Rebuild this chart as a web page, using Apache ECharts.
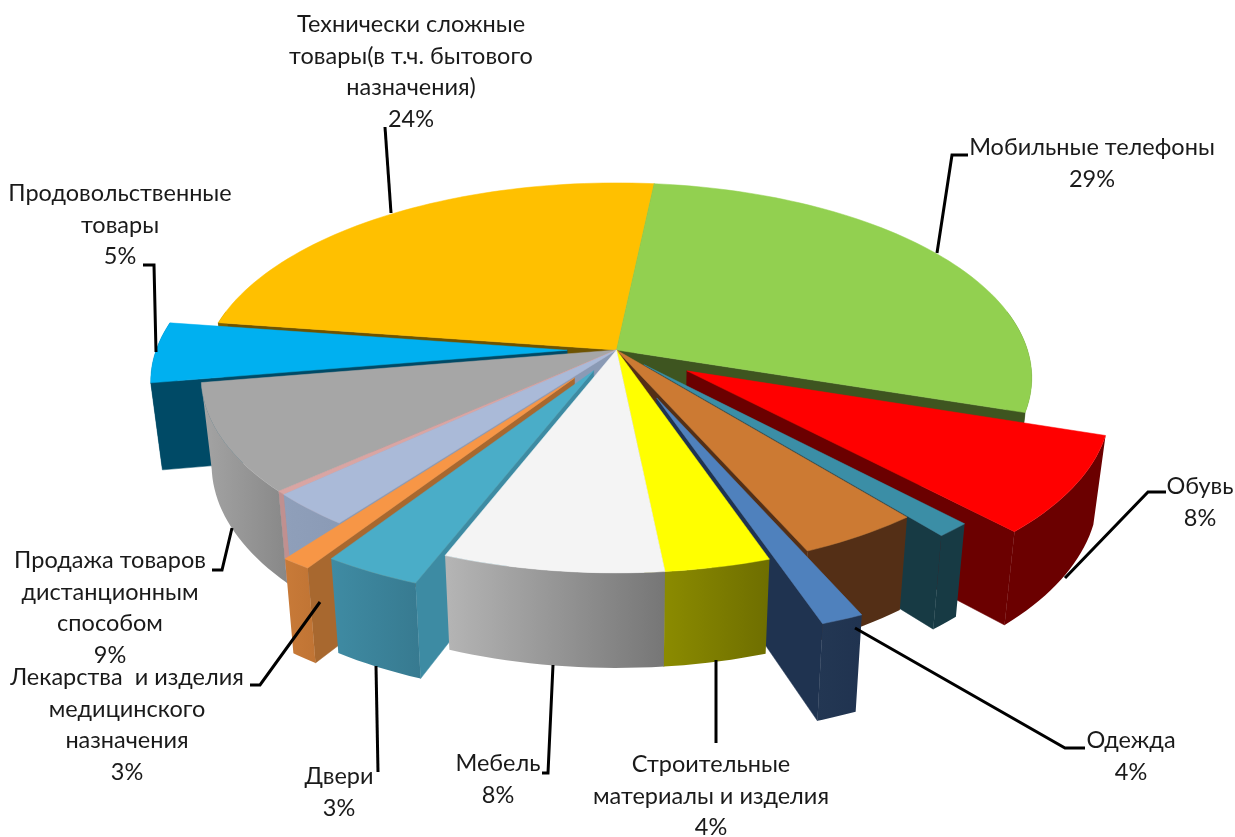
<!DOCTYPE html>
<html>
<head>
<meta charset="utf-8">
<style>
  html, body { margin: 0; padding: 0; background: #fff; }
  #chart { width: 1235px; height: 837px; }
</style>
<script src="https://cdn.jsdelivr.net/npm/echarts@6/dist/echarts.min.js"></script>
</head>
<body>
<div id="chart"></div>
<script>
// доли секторов, по часовой стрелке (оценка по картинке)
var sliceNames = ["Мобильные телефоны", "Обувь", "", "", "Одежда", "Строительные материалы и изделия", "Мебель",
  "Двери", "Лекарства и изделия медицинского назначения", "", "", "Продажа товаров дистанционным способом",
  "Продовольственные товары", "Технически сложные товары(в т.ч. бытового назначения)"];
var sliceValues = [28.4, 7.95, 1.17, 4.2, 1.4, 3.6, 7.5, 3.3, 1.0, 2.85, 0.3, 9.0, 5.0, 24.33];
var sliceExplode = [0, 0.2, 0.1, 0, 0.26, 0, 0, 0.12, 0.175, 0, 0, 0, 0.12, 0];
var startAngle = 6;

var topColors = ["#92d050", "#ff0000", "#3b8ea6", "#cc7a33", "#4f81bd", "#ffff00", "#f4f4f4",
  "#4aadc8", "#f79646", "#aabad8", "#d9a5a3", "#a6a6a6", "#00b0f0", "#ffc000"];
var wallColors = [["#3e5520", "#3e5520"], ["#6b0000", "#6b0000"], ["#173a44", "#173a44"], ["#542f16", "#542f16"],
  ["#233753", "#203350"], ["#8b8b00", "#6e6e00"], ["#b5b5b5", "#767676"], ["#3f8ba3", "#377a90"],
  ["#c87a38", "#c07434"], ["#8f9fba", "#8a9ab5"], ["#c09090", "#c09090"], ["#a4a4a4", "#888888"],
  ["#004a66", "#004a66"], ["#806000", "#806000"]];
var faceColors = ["#3e5520", "#6b0000", "#173a44", "#542f16", "#1f3350", "#6e6e00", "#767676",
  "#3d8ba3", "#a8682f", "#8a9ab5", "#c09090", "#848484", "#004a66", "#6e5300"];

// подписи: текст и положение отдельно от данных
var labelTexts = ["Технически сложные\nтовары(в т.ч. бытового\nназначения)\n24%", "Мобильные телефоны\n29%",
  "Продовольственные\nтовары\n5%", "Обувь\n8%", "Одежда\n4%", "Строительные\nматериалы и изделия\n4%",
  "Мебель\n8%", "Двери\n3%", "Лекарства  и изделия\nмедицинского\nназначения\n3%",
  "Продажа товаров\nдистанционным\nспособом\n9%"];
var labelPos = [[411, 9], [1092, 132], [120, 178], [1200, 471], [1131, 725], [711, 749], [498, 748], [339, 761], [127, 662], [110, 545]];
var leaders = [
  [[385, 127], [391, 213]],
  [[968, 155], [952, 155], [937, 253]],
  [[143, 265], [154, 265], [156, 352]],
  [[1166, 492], [1148, 492], [1065, 578]],
  [[1085, 748], [1065, 748], [855, 628]],
  [[716, 660], [716, 743]],
  [[553, 665], [548, 773], [542, 773]],
  [[376, 666], [378, 772]],
  [[320, 602], [260, 685], [250, 685]],
  [[232, 528], [222, 570], [212, 570]]
];

// проекция диска
var cx = 616.5, cy = 350, radX = 411, radY = 191, persp = 0.143, depth = 85.6, shrink = 0.975;

function project(x, y, bottom) {
  var s = 1 / (1 - persp * y);
  var px = cx + radX * x * s;
  var py = cy + radY * y * s;
  if (bottom) {
    px = cx + (px - cx) * shrink;
    py += depth * Math.pow(s, 0.68);
  }
  return [px, py];
}
function rad(d) { return d * Math.PI / 180; }

var total = sliceValues.reduce(function (a, b) { return a + b; }, 0);
var sliceData = [];
var acc = startAngle;
sliceValues.forEach(function (v, i) {
  var sweep = v / total * 360;
  sliceData.push([i, acc, acc + sweep, sliceExplode[i]]);
  acc += sweep;
});
// дальние сектора рисуем первыми
sliceData.sort(function (a, b) {
  var ma = Math.abs((a[1] + a[2]) / 2 - 180);
  var mb = Math.abs((b[1] + b[2]) / 2 - 180);
  return mb - ma;
});

function poly(points, fill) {
  return {
    type: "polygon",
    shape: { points: points },
    style: { fill: fill, stroke: typeof fill === "string" ? fill : null, lineWidth: 0.5 },
    silent: true
  };
}

function renderItem(params, api) {
  var i = api.value(0), a = api.value(1), b = api.value(2), e = api.value(3);
  var mid = rad((a + b) / 2);
  var ox = e * Math.sin(mid), oy = -e * Math.cos(mid);
  var apexTop = project(ox, oy, false), apexBot = project(ox, oy, true);

  function arc(from, to, bottom) {
    var pts = [];
    for (var t = from; ; t += 1.5) {
      var th = rad(Math.min(t, to));
      pts.push(project(ox + Math.sin(th), oy - Math.cos(th), bottom));
      if (t >= to) break;
    }
    return pts;
  }
  var topArc = arc(a, b, false);
  var last = topArc.length - 1;
  var children = [];

  // боковые срезы, только те, что смотрят на зрителя
  if (b % 360 < 180) {
    children.push(poly([apexTop, topArc[last], project(ox + Math.sin(rad(b)), oy - Math.cos(rad(b)), true), apexBot], faceColors[i]));
  }
  if (a % 360 > 180) {
    children.push(poly([apexTop, topArc[0], project(ox + Math.sin(rad(a)), oy - Math.cos(rad(a)), true), apexBot], faceColors[i]));
  }
  // внешняя стенка, задняя часть не видна
  var wa = Math.max(a, 78), wb = Math.min(b, 282);
  if (wa < wb) {
    var wt = arc(wa, wb, false), wd = arc(wa, wb, true);
    var xs = wt.concat(wd).map(function (p) { return p[0]; });
    var minX = Math.min.apply(null, xs), maxX = Math.max.apply(null, xs);
    var wall = new echarts.graphic.LinearGradient(minX, 0, maxX, 0, [
      { offset: 0, color: wallColors[i][0] },
      { offset: 1, color: wallColors[i][1] }
    ], true);
    children.push(poly(wt.concat(wd.slice().reverse()), wall));
  }
  // верхняя грань
  children.push(poly([apexTop].concat(topArc), topColors[i]));

  return { type: "group", children: children };
}

var graphics = [];
leaders.forEach(function (pts) {
  graphics.push({
    type: "polyline",
    shape: { points: pts },
    style: { stroke: "#000", lineWidth: 3, fill: null },
    z: 10,
    silent: true
  });
});
labelTexts.forEach(function (txt, i) {
  graphics.push({
    type: "text",
    x: labelPos[i][0],
    y: labelPos[i][1],
    style: {
      text: txt,
      font: "23.5px Lato",
      lineHeight: 31.5,
      fill: "#1a1a1a",
      align: "center",
      verticalAlign: "top"
    },
    z: 11,
    silent: true
  });
});

var myChart = echarts.init(document.getElementById("chart"));
myChart.setOption({
  animation: false,
  backgroundColor: "#fff",
  series: [{
    type: "custom",
    coordinateSystem: "none",
    renderItem: renderItem,
    data: sliceData,
    silent: true
  }],
  graphic: graphics
});
</script>
</body>
</html>
